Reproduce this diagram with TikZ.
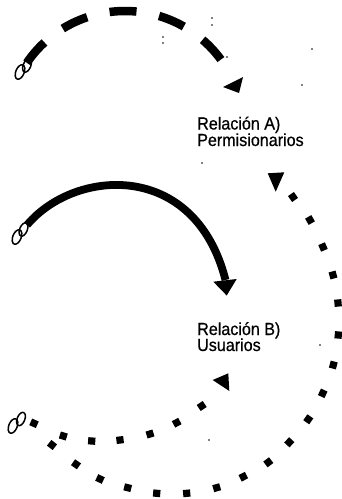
\documentclass[tikz,border=0pt]{standalone}
\usepackage{fontspec}
\setmainfont{Liberation Sans}[FakeStretch=0.92,FakeBold=0.6]
\begin{document}
\begin{tikzpicture}[x=1pt,y=-1pt,
  lbl/.style={anchor=base west, inner sep=0pt, font=\fontsize{17.5}{18}\selectfont},
  ring/.style={line width=1.5pt},
  dasharc/.style={line width=8.5pt, dash pattern=on 27pt off 23pt},
  solidarc/.style={line width=7.8pt},
  head/.style={fill=black},
  speck/.style={fill=black}]
\useasboundingbox[fill=white] (0,0) rectangle (341,499);

% small "oo" marks
\foreach \cx/\cy/\dx/\dy in {20/72/27/65.5, 17/237/23.5/229.5, 13/426/21/419}{
  \draw[ring, shift={(\cx,\cy)}, rotate=-22] (0,0) ellipse [x radius=4.2, y radius=7.6];
  \draw[ring, shift={(\dx,\dy)}, rotate=-22] (0,0) ellipse [x radius=3.8, y radius=7];
}

% named end points
\coordinate (a0) at (27,63);
\coordinate (s0) at (27,225);
\coordinate (s1) at (225.5,280);

% Relacion A: dashed arc
\draw[dasharc] plot[domain=-145.6:-35, samples=80] ({125+119*cos(\x)},{130+119*sin(\x)});
\fill[head] (223,87) -- (243,77) -- (239,93) -- cycle;

% Relacion B: solid arc
\draw[solidarc] (s0) .. controls (75,168) and (195,160) .. (s1);
\fill[head] (213.3,281.7) -- (236.7,279) -- (226.7,295.5) -- cycle;

% outer dotted arc
\foreach \x/\y/\a in {52/445/-38, 76/464.3/-35, 100/479/-25, 127.7/487.7/-14,
  156.7/493.3/-5, 186.7/493.3/5, 216.7/487.7/16, 243.3/476.7/27, 268.3/462.3/37,
  289.3/442.3/47, 308.3/419.3/55, 322.7/393.3/65, 333.3/365/75, 338.3/335/85,
  338/303/95, 333/275/105, 323/247/113, 310/220/120, 293/197/125}{
  \fill[shift={(\x,\y)}, rotate=\a] (-3.6,-3.6) rectangle (3.6,3.6);
}
\fill[head] (267.7,173.3) -- (284.3,172.3) -- (275.7,191.7) -- cycle;

% inner dotted arc
\foreach \x/\y/\a in {34/423.3/-24, 63.3/436/-17, 91.7/441/-4, 120/440/7,
  150/434/17, 176.7/422.7/28, 201.7/406/34}{
  \fill[shift={(\x,\y)}, rotate=\a] (-3.6,-3.6) rectangle (3.6,3.6);
}
\fill[head] (212.7,380) -- (228.3,373.3) -- (229.3,391) -- cycle;

% labels
\node[lbl] (la1) at (197,129.5) {Relación A)};
\node[lbl] (la2) at (197,146) {Permisionarios};
\node[lbl] (lb1) at (197,335) {Relación B)};
\node[lbl] (lb2) at (197,351) {Usuarios};

% scan specks
\foreach \x/\y in {212/18, 212/25, 163/37, 163/43, 227/57, 312/49, 302/85, 202/163, 209/440, 320/345}{
  \fill[speck] (\x,\y) circle (0.8);
}
\end{tikzpicture}
\end{document}
